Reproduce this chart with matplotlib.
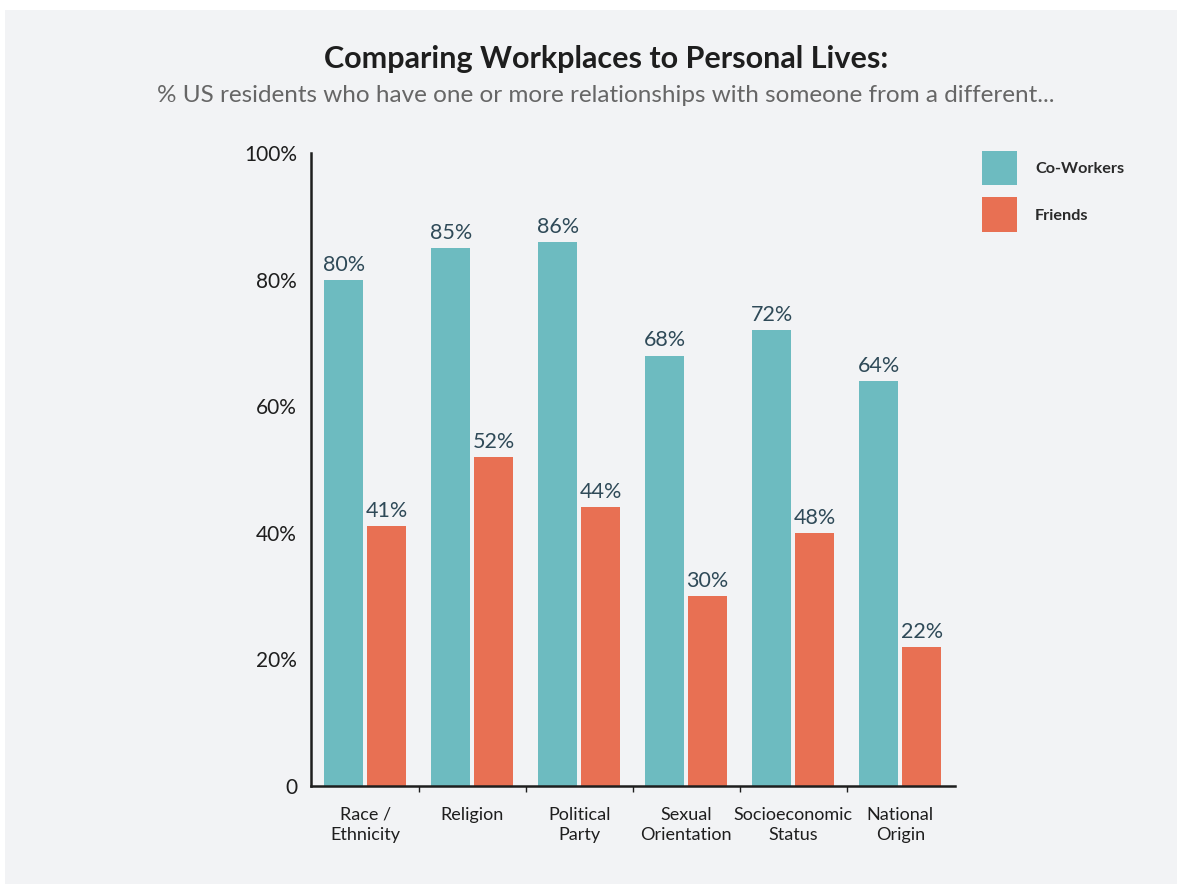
import matplotlib.pyplot as plt
from matplotlib.patches import Rectangle
import numpy as np

# data
categories = ["Race /\nEthnicity", "Religion", "Political\nParty", "Sexual\nOrientation",
              "Socioeconomic\nStatus", "National\nOrigin"]
coworkers = [80, 85, 86, 68, 72, 64]
friends = [41, 52, 44, 30, 40, 22]          # bar heights as drawn
coworker_labels = ["80%", "85%", "86%", "68%", "72%", "64%"]
friend_labels = ["41%", "52%", "44%", "30%", "48%", "22%"]   # labels as printed
yticks = [0, 20, 40, 60, 80, 100]
ytick_labels = ["0", "20%", "40%", "60%", "80%", "100%"]

teal = "#6dbbc0"
coral = "#e87053"
bg = "#f2f3f5"
dark = "#1e1e1e"
label_col = "#2f4a58"

plt.rcParams['font.family'] = ['Lato', 'DejaVu Sans']

fig = plt.figure(figsize=(11.8, 8.84), dpi=100, facecolor="white")
fig.patches.append(Rectangle((5 / 1180, 0), 1172 / 1180, 874 / 884,
                             transform=fig.transFigure, facecolor=bg,
                             edgecolor="none", zorder=-10))

ax = fig.add_axes([311 / 1180, 1 - 786 / 884, 644 / 1180, 633 / 884])
ax.set_facecolor(bg)

x = np.arange(len(categories))
w = 0.364
off = 0.2
b1 = ax.bar(x - off, coworkers, w, color=teal, label="Co-Workers")
b2 = ax.bar(x + off, friends, w, color=coral, label="Friends")

for bars, labs in ((b1, coworker_labels), (b2, friend_labels)):
    for b, t in zip(bars, labs):
        ax.text(b.get_x() + b.get_width() / 2, b.get_height() + 0.8, t,
                ha="center", va="bottom", fontsize=15.5, color=label_col)

ax.set_xlim(-0.505, 5.51)
ax.set_ylim(0, 100)
ax.set_yticks(yticks)
ax.set_yticklabels(ytick_labels, fontsize=15, color=dark)
ax.set_xticks(x)
ax.set_xticklabels(categories, fontsize=13, color=dark, linespacing=1.3)
ax.set_xticks(np.arange(0.5, 5.5, 1), minor=True)
ax.tick_params(axis="x", which="major", length=0, pad=15)
ax.tick_params(axis="x", which="minor", length=4, width=1, color=dark)
ax.tick_params(axis="y", length=0, pad=10)

for s in ("top", "right"):
    ax.spines[s].set_visible(False)
for s in ("left", "bottom"):
    ax.spines[s].set_linewidth(1.8)
    ax.spines[s].set_color(dark)

leg = ax.legend(loc="upper left", bbox_to_anchor=(967 / 1180, 1 - 136 / 884),
                bbox_transform=fig.transFigure, frameon=False, fontsize=11.7,
                handlelength=2.2, handleheight=2.9, labelspacing=0.75,
                handletextpad=1.1)
for t in leg.get_texts():
    t.set_fontweight("bold")
    t.set_color("#2a2a2a")

fig.text(606 / 1180, 1 - 59 / 884, "Comparing Workplaces to Personal Lives:",
         ha="center", va="center", fontsize=22, fontweight="bold", color="#1e1e1e")
fig.text(606 / 1180, 1 - 95 / 884,
         "% US residents who have one or more relationships with someone from a different...",
         ha="center", va="center", fontsize=17.5, color="#666666")

fig.savefig("out.png", dpi=100, facecolor=fig.get_facecolor())
